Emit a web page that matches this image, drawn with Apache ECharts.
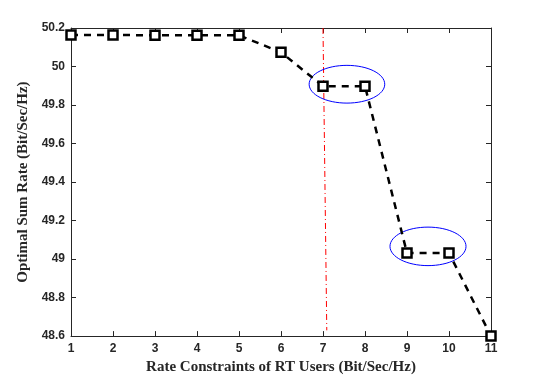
<!DOCTYPE html>
<html>
<head>
<meta charset="utf-8">
<script src="https://cdn.jsdelivr.net/npm/echarts@6/dist/echarts.min.js"></script>
<style>
  html, body { margin: 0; padding: 0; background: #fff; }
  #chart { width: 544px; height: 380px; }
</style>
</head>
<body>
<div id="chart"></div>
<script>
// data
const rateConstraints = [1, 2, 3, 4, 5, 6, 7, 8, 9, 10, 11]
const sumRate = [50.164, 50.164, 50.162, 50.162, 50.162, 50.074, 49.898, 49.898, 49.031, 49.031, 48.6]

// red dash-dot threshold line (slightly slanted in the original)
const thresholdX = [7.0, 7.09]
const thresholdY = [50.2, 48.63]

// blue ellipses: [centerX, centerY, radiusX, radiusY] in data units
const ellipses = [
  [7.57, 49.908, 0.9, 0.098],
  [9.5, 49.066, 0.905, 0.1]
]

const xTicks = { min: 1, max: 11, step: 1 }
const yTicks = { min: 48.6, max: 50.2, step: 0.2 }

const chart = echarts.init(document.getElementById('chart'))

const tickLabelStyle = {
  color: '#262626',
  fontFamily: 'Liberation Sans, Arial, sans-serif',
  fontSize: 12,
  fontWeight: 'bold'
}
const nameStyle = {
  color: '#262626',
  fontFamily: 'Liberation Serif, Times New Roman, serif',
  fontSize: 15,
  fontWeight: 'bold'
}
const axisLine = { show: true, lineStyle: { color: '#262626', width: 1 } }
const axisTick = { show: true, inside: true, length: 5, lineStyle: { color: '#262626' } }

const option = {
  backgroundColor: '#fff',
  animation: false,
  grid: { left: 71, right: 53, top: 28, bottom: 43 },
  xAxis: [
    {
      type: 'value',
      min: xTicks.min,
      max: xTicks.max,
      interval: xTicks.step,
      name: 'Rate Constraints of RT Users (Bit/Sec/Hz)',
      nameLocation: 'middle',
      nameGap: 23,
      nameTextStyle: nameStyle,
      axisLine: axisLine,
      axisTick: axisTick,
      axisLabel: Object.assign({ margin: 7 }, tickLabelStyle),
      splitLine: { show: false }
    },
    {
      type: 'value',
      position: 'top',
      min: xTicks.min,
      max: xTicks.max,
      interval: xTicks.step,
      axisLine: axisLine,
      axisTick: axisTick,
      axisLabel: { show: false },
      splitLine: { show: false }
    }
  ],
  yAxis: [
    {
      type: 'value',
      min: yTicks.min,
      max: yTicks.max,
      interval: yTicks.step,
      name: 'Optimal Sum Rate (Bit/Sec/Hz)',
      nameLocation: 'middle',
      nameGap: 40,
      nameTextStyle: nameStyle,
      axisLine: axisLine,
      axisTick: axisTick,
      axisLabel: Object.assign({
        margin: 6,
        formatter: v => String(+v.toFixed(1))
      }, tickLabelStyle),
      splitLine: { show: false }
    },
    {
      type: 'value',
      position: 'right',
      min: yTicks.min,
      max: yTicks.max,
      interval: yTicks.step,
      axisLine: axisLine,
      axisTick: axisTick,
      axisLabel: { show: false },
      splitLine: { show: false }
    }
  ],
  series: [
    {
      type: 'line',
      data: thresholdX.map((x, i) => [x, thresholdY[i]]),
      symbol: 'none',
      lineStyle: { color: '#ff0000', width: 1, type: [6, 3, 1, 3] },
      z: 2
    },
    {
      type: 'custom',
      data: ellipses,
      renderItem: (params, api) => {
        const c = api.coord([api.value(0), api.value(1)])
        const s = api.size([api.value(2), api.value(3)])
        return {
          type: 'ellipse',
          shape: { cx: c[0], cy: c[1], rx: s[0], ry: s[1] },
          style: { fill: null, stroke: '#0000ff', lineWidth: 1 }
        }
      },
      z: 3
    },
    {
      type: 'line',
      data: rateConstraints.map((x, i) => [x, sumRate[i]]),
      symbol: 'rect',
      symbolSize: 9,
      itemStyle: { color: '#fff', borderColor: '#000', borderWidth: 2.5 },
      lineStyle: { color: '#000', width: 2.5, type: [7, 6] },
      z: 4
    }
  ]
}

chart.setOption(option)
</script>
</body>
</html>
